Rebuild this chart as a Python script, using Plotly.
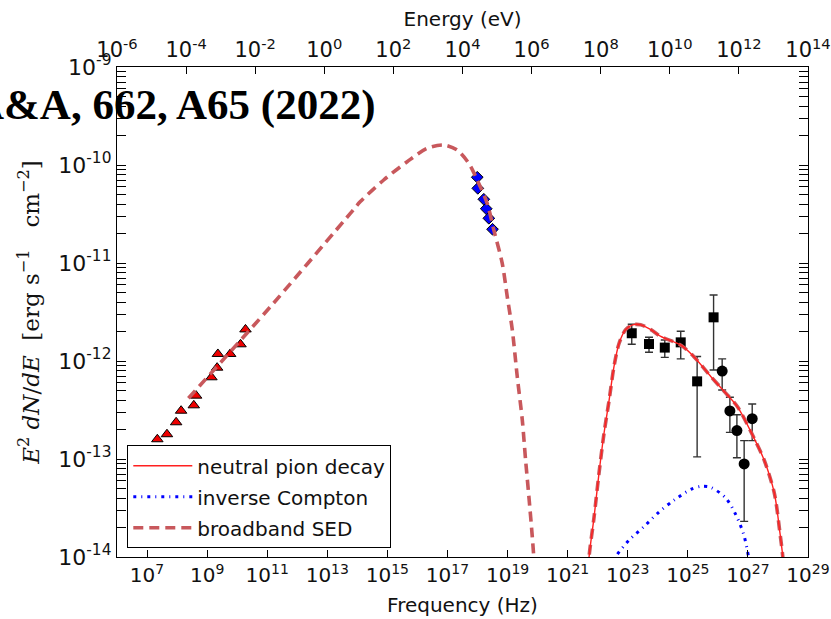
import plotly.graph_objects as go
import numpy as np

# ---------------- data ----------------
radio_nu = [2.2e7, 4.6e7, 9.3e7, 1.36e8, 3.6e8, 4.3e8, 1.39e9, 2.15e9, 2.28e9, 5.85e9, 1.29e10, 1.89e10]
radio_F = [1.59e-13, 1.79e-13, 2.37e-13, 3.11e-13, 3.53e-13, 4.43e-13, 6.82e-13, 8.55e-13,
           1.18e-12, 1.18e-12, 1.48e-12, 2.10e-12]

xray_nu = [9.8e17, 1.02e18, 1.62e18, 1.95e18, 2.38e18, 3.16e18]
xray_F = [7.5e-11, 5.78e-11, 4.47e-11, 3.58e-11, 2.86e-11, 2.21e-11]

fermi_nu = [1.36e23, 5.1e23, 1.71e24, 5.8e24, 2.04e25, 7.2e25]
fermi_F = [1.92e-12, 1.49e-12, 1.37e-12, 1.55e-12, 6.2e-13, 2.79e-12]
fermi_lo = [1.48e-12, 1.23e-12, 1.09e-12, 1.05e-12, 1.05e-13, 8.1e-13]
fermi_hi = [2.37e-12, 1.75e-12, 1.64e-12, 2.01e-12, 1.11e-12, 4.71e-12]

tev_nu = [1.39e26, 2.51e26, 4.3e26, 7.5e26, 1.39e27]
tev_F = [7.9e-13, 3.09e-13, 1.95e-13, 8.9e-14, 2.58e-13]
tev_lo = [5.06e-13, 1.87e-13, 1.03e-13, 2.31e-14, 1.54e-13]
tev_hi = [1.05e-12, 4.27e-13, 2.83e-13, 1.54e-13, 3.64e-13]

# model curves
sync_nu = [2.38e8, 1.62e11, 5.85e13, 1.26e14, 7.53e14, 4.54e15, 2.10e16, 7.53e16, 2.10e17, 5.13e17,
           9.77e17, 2.10e18, 3.49e18, 6.65e18, 9.77e18, 1.44e19, 2.10e19, 3.09e19, 3.98e19,
           5.13e19, 6.65e19, 8.3e19]
sync_F = [4.16e-13, 3.89e-12, 3.21e-11, 4.23e-11, 7.03e-11, 1.08e-10, 1.48e-10, 1.60e-10, 1.42e-10,
          1.04e-10, 7.03e-11, 4.06e-11, 2.17e-11, 9.93e-12, 4.53e-12, 2.07e-12, 6.92e-13, 2.50e-13,
          9.77e-14, 4.12e-14, 1.61e-14, 6.3e-15]

pion_nu = [4.79e21, 5.13e21, 7.59e21, 1.10e22, 1.62e22, 2.40e22, 3.47e22, 5.13e22, 8.51e22, 1.45e23,
           2.69e23, 5.89e23, 1.26e24, 5.89e24, 1.62e25, 5.89e25, 1.62e26, 4.57e26, 1.62e27,
           3.47e27, 7.59e27, 1.17e28, 1.45e28, 1.58e28]
pion_F = [5.0e-15, 9.8e-15, 2.57e-14, 7.08e-14, 1.82e-13, 3.98e-13, 8.71e-13, 1.51e-12, 2.09e-12,
          2.34e-12, 2.34e-12, 2.09e-12, 1.78e-12, 1.45e-12, 1.10e-12, 6.92e-13, 4.90e-13, 3.39e-13,
          1.62e-13, 9.77e-14, 4.47e-14, 1.74e-14, 1.0e-14, 6.3e-15]

ic_nu = [3.16e22, 3.98e22, 1.10e23, 3.47e23, 1.10e24, 3.47e24, 1.26e25, 2.69e25, 5.89e25, 1.86e26,
         3.98e26, 7.24e26, 1.05e27, 1.15e27]
ic_F = [7.9e-15, 1.0e-14, 1.48e-14, 2.04e-14, 2.88e-14, 3.80e-14, 4.90e-14, 5.25e-14, 5.13e-14,
        3.98e-14, 2.69e-14, 1.70e-14, 1.0e-14, 7.9e-15]

x_ticks_exp = [7, 9, 11, 13, 15, 17, 19, 21, 23, 25, 27, 29]
top_ticks_exp = [-6, -4, -2, 0, 2, 4, 6, 8, 10, 12, 14]
y_ticks_exp = [-14, -13, -12, -11, -10, -9]

# ---------------- figure ----------------
FONT = "DejaVu Sans"
TXT = "#111111"
fig = go.Figure()

err_style = dict(color="#333333", thickness=1.4, width=4)

fig.add_trace(go.Scatter(x=radio_nu, y=radio_F, mode="markers", showlegend=False,
                         marker=dict(symbol="triangle-up", size=10, color="#ee0000",
                                     line=dict(color="black", width=1))))
fig.add_trace(go.Scatter(x=xray_nu, y=xray_F, mode="markers", showlegend=False,
                         marker=dict(symbol="diamond", size=9, color="#0000ff",
                                     line=dict(color="black", width=1))))
fig.add_trace(go.Scatter(
    x=fermi_nu, y=fermi_F, mode="markers", showlegend=False,
    marker=dict(symbol="square", size=10, color="black"),
    error_y=dict(type="data", symmetric=False,
                 array=list(np.array(fermi_hi) - np.array(fermi_F)),
                 arrayminus=list(np.array(fermi_F) - np.array(fermi_lo)), **err_style)))
fig.add_trace(go.Scatter(
    x=tev_nu, y=tev_F, mode="markers", showlegend=False,
    marker=dict(symbol="circle", size=11, color="black"),
    error_y=dict(type="data", symmetric=False,
                 array=list(np.array(tev_hi) - np.array(tev_F)),
                 arrayminus=list(np.array(tev_F) - np.array(tev_lo)), **err_style)))

# broadband SED: synchrotron part + gamma part (gap in between)
bb_nu = sync_nu + [None] + pion_nu
bb_F = sync_F + [None] + pion_F
fig.add_trace(go.Scatter(x=bb_nu, y=bb_F, mode="lines", name="broadband SED", legendrank=3,
                         legendgroup="c", connectgaps=False,
                         line=dict(color="#c8585c", width=3.6, dash="10px,6px", shape="spline",
                                   smoothing=0.8)))
fig.add_trace(go.Scatter(x=pion_nu, y=pion_F, mode="lines", name="neutral pion decay", legendrank=1,
                         legendgroup="a",
                         line=dict(color="#ff2020", width=1.4, shape="spline", smoothing=0.8)))
fig.add_trace(go.Scatter(x=ic_nu, y=ic_F, mode="lines", name="inverse Compton", legendrank=2,
                         legendgroup="b",
                         line=dict(color="#0000ff", width=3, dash="3px,5px,1px,5px", shape="spline",
                                   smoothing=0.8)))
# helper (no visible marks) so that the top energy axis is drawn
fig.add_trace(go.Scatter(x=[10.0 ** top_ticks_exp[0], 10.0 ** top_ticks_exp[-1]], y=[None, None],
                         xaxis="x2", yaxis="y", mode="markers", showlegend=False, hoverinfo="skip"))

axis_common = dict(showgrid=False, zeroline=False, linecolor="black", linewidth=1.3,
                   ticks="inside", tickcolor="black", tickwidth=1.2, automargin=False)

fig.update_layout(
    width=831, height=619,
    margin=dict(l=117, r=23, t=67, b=62),
    paper_bgcolor="white", plot_bgcolor="white",
    font=dict(family=FONT, color=TXT),
    xaxis=dict(type="log", range=[6, 29],
               tickvals=[10.0 ** e for e in x_ticks_exp],
               ticktext=["10<sup>%d</sup>" % e for e in x_ticks_exp],
               ticklen=7, mirror=True,
               tickfont=dict(family=FONT, size=20, color=TXT),
               title=dict(text="Frequency (Hz)", font=dict(family=FONT, size=20, color=TXT), standoff=11),
               **axis_common),
    xaxis2=dict(type="log", range=[-6, 14], overlaying="x", side="top", anchor="y",
                tickvals=[10.0 ** e for e in top_ticks_exp],
                ticktext=["10<sup>%d</sup>" % e for e in top_ticks_exp],
                ticklen=7,
                tickfont=dict(family=FONT, size=21, color=TXT),
                title=dict(text="Energy (eV)", font=dict(family=FONT, size=20, color=TXT), standoff=2),
                **axis_common),
    yaxis=dict(type="log", range=[-14, -9],
               tickvals=[10.0 ** e for e in y_ticks_exp],
               ticktext=["10<sup>%d</sup>" % e for e in y_ticks_exp],
               ticklen=9, mirror="allticks",
               tickfont=dict(family=FONT, size=22, color=TXT),
               minor=dict(ticks="inside", ticklen=5, tickcolor="black", tickwidth=1, dtick="D1"),
               title=dict(text="<i>E</i><sup>2</sup> <i>dN</i>/<i>dE</i>  [erg s<sup>−1</sup>   cm<sup>−2</sup>]",
                          font=dict(family="DejaVu Serif", size=23, color=TXT), standoff=12),
               **axis_common),
    legend=dict(x=0.0149, y=0.2280, xanchor="left", yanchor="top",
                bgcolor="white", bordercolor="black", borderwidth=1,
                font=dict(family=FONT, size=20, color=TXT),
                tracegroupgap=2, itemwidth=59),
    annotations=[dict(text="<b>A&A, 662, A65 (2022)</b>", xref="paper", yref="paper",
                      x=0.3777, y=0.9224, xanchor="right", yanchor="middle", showarrow=False,
                      font=dict(family="Liberation Serif", size=43, color="black"))],
)

fig.write_html("out.html")
